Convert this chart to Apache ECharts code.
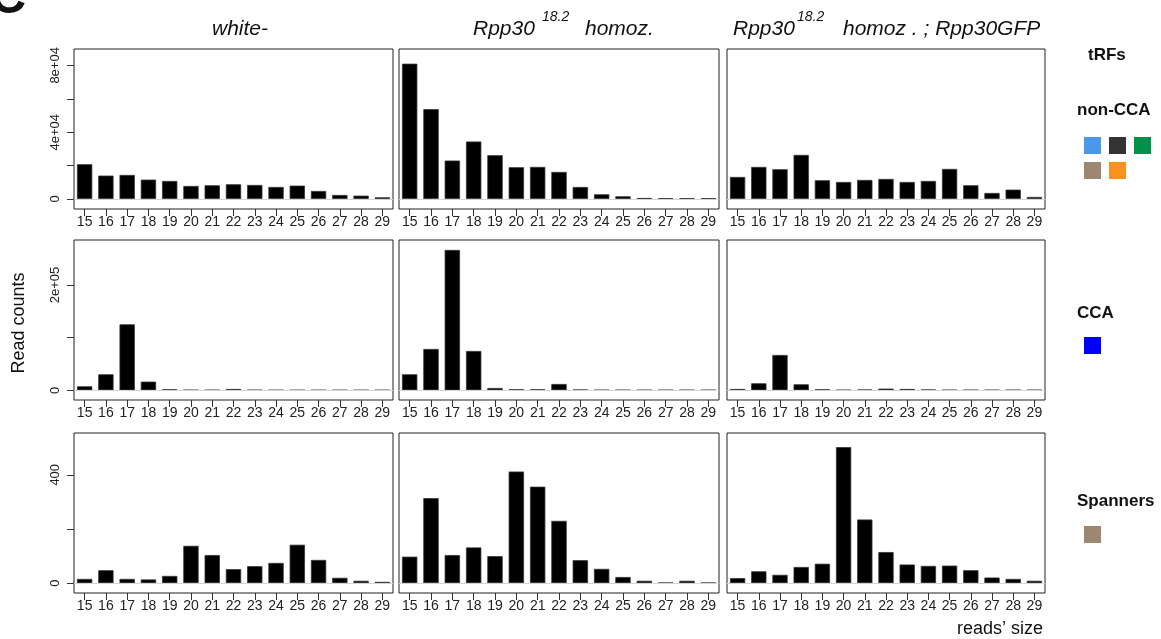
<!DOCTYPE html>
<html><head><meta charset="utf-8">
<script src="https://cdn.jsdelivr.net/npm/echarts@6/dist/echarts.min.js"></script>
<style>html,body{margin:0;padding:0;background:#fff}#c{width:1161px;height:639px}</style>
</head><body><div id="c"></div>
<script>
// ---------- data ----------
const sizes = ['15','16','17','18','19','20','21','22','23','24','25','26','27','28','29'];
const rowLabels = ['non-CCA', 'CCA', 'Spanners'];

const nonCCA_white  = [20800,14000,14400,11600,10800,7800,8200,8800,8400,7200,8000,4800,2400,2000,1000];
const nonCCA_rpp30  = [81000,53800,23000,34400,26200,19000,19200,16200,7200,2800,1600,600,400,400,400];
const nonCCA_rescue = [13200,19200,17800,26400,11200,10200,11400,12000,10200,10800,18000,8200,3600,5600,1200];

const cca_white  = [7600,30400,125300,16500,1900,600,600,2500,600,400,400,400,400,400,400];
const cca_rpp30  = [30400,78500,266500,74700,4400,1900,1900,12000,1300,600,600,600,600,600,600];
const cca_rescue = [2500,13300,67100,11400,1900,600,1300,3200,2500,1300,600,600,600,600,600];

const span_white  = [16,48,16,14,27,138,104,52,63,75,142,86,20,9,5];
const span_rpp30  = [98,314,104,132,100,412,356,230,85,53,23,9,2,9,2];
const span_rescue = [19,44,31,60,72,502,235,115,69,64,65,48,21,16,9];

// y-axis ticks / labels per row
const row1Ticks = [0,20000,40000,60000,80000];
const row1Labels = [0,40000,80000];
const row2Ticks = [0,100000,200000];
const row2Labels = [0,200000];
const row3Ticks = [0,200,400];
const row3Labels = [0,400];

// ---------- layout ----------
const colLeft = [74, 399, 727];
const colWidth = [319, 320, 318];
const rowTop = [49, 240, 433];
const rowHeight = 160;
const rowRange = [[-6000, 89800], [-18400, 285400], [-36, 554]];

const seriesData = [
  [nonCCA_white, nonCCA_rpp30, nonCCA_rescue],
  [cca_white, cca_rpp30, cca_rescue],
  [span_white, span_rpp30, span_rescue]
];
const ticks = [row1Ticks, row2Ticks, row3Ticks];
const labels = [row1Labels, row2Labels, row3Labels];

function sci(v) {
  if (v === 0) return '0';
  if (v < 1000) return String(v);
  const e = Math.floor(Math.log10(v));
  const m = Math.round(v / Math.pow(10, e));
  return m + 'e+' + (e < 10 ? '0' + e : e);
}

const FONT = '"Liberation Sans", Arial, sans-serif';
const grids = [], xAxes = [], yAxes = [], series = [];
for (let r = 0; r < 3; r++) {
  for (let c = 0; c < 3; c++) {
    const i = r * 3 + c;
    grids.push({left: colLeft[c], top: rowTop[r], width: colWidth[c], height: rowHeight,
      show: true, borderColor: '#222', borderWidth: 1, backgroundColor: 'transparent'});
    xAxes.push({type: 'category', gridIndex: i, data: sizes, position: 'bottom',
      axisLine: {show: false, onZero: false},
      axisTick: {show: true, alignWithLabel: true, length: 7, lineStyle: {color: '#333'}},
      axisLabel: {interval: 0, fontSize: 14, color: '#222', margin: 6, fontFamily: FONT, hideOverlap: false},
      splitLine: {show: false}});
    const first = c === 0;
    yAxes.push({type: 'value', gridIndex: i, min: rowRange[r][0], max: rowRange[r][1],
      axisLine: {show: false, onZero: false}, splitLine: {show: false},
      axisTick: {show: first, length: 7, customValues: ticks[r], lineStyle: {color: '#333'}},
      axisLabel: {show: first, customValues: labels[r], rotate: 90, fontSize: 13, color: '#222',
        margin: 12, fontFamily: FONT, formatter: v => sci(v)}});
    series.push({type: 'line', xAxisIndex: i, yAxisIndex: i, data: [], z: 1, silent: true,
      markLine: {silent: true, symbol: 'none', label: {show: false},
        lineStyle: {color: '#d4d4d4', type: 'solid', width: 1}, data: [{yAxis: 0}]}});
    series.push({type: 'bar', xAxisIndex: i, yAxisIndex: i, data: seriesData[r][c], z: 3,
      barWidth: '72%', silent: true,
      itemStyle: {color: '#000', borderColor: '#333', borderWidth: 0.8}});
  }
}

function txt(x, y, text, font, align, extra) {
  return Object.assign({type: 'text', x: x, y: y, silent: true,
    style: {text: text, font: font, fill: '#111', textAlign: align, align: align,
      textVerticalAlign: 'middle', verticalAlign: 'middle'}}, extra || {});
}
const titleFont = 'italic 21px ' + FONT;
const supFont = 'italic 14px ' + FONT;
const legFont = 'bold 17px ' + FONT;
const graphics = [
  txt(-10, -1, 'C', 'bold 50px ' + FONT, 'left'),
  txt(240, 29.5, 'white-', titleFont, 'center'),
  txt(473, 29.5, 'Rpp30', titleFont, 'left'),
  txt(542, 17, '18.2', supFont, 'left'),
  txt(585, 29.5, 'homoz.', titleFont, 'left'),
  txt(733, 29.5, 'Rpp30', titleFont, 'left'),
  txt(797, 17, '18.2', supFont, 'left'),
  txt(843, 29.5, 'homoz . ; Rpp30GFP', titleFont, 'left'),
  txt(19, 323, 'Read counts', '18px ' + FONT, 'center', {rotation: Math.PI / 2}),
  txt(1043, 629, 'reads\u2019 size', '18px ' + FONT, 'right'),
  txt(1088, 55.5, 'tRFs', legFont, 'left'),
  txt(1077, 110.5, rowLabels[0], legFont, 'left'),
  txt(1077, 313.5, rowLabels[1], legFont, 'left'),
  txt(1077, 501.5, rowLabels[2], legFont, 'left')
];
function sq(x, y, color) {
  return {type: 'rect', silent: true, shape: {x: x, y: y, width: 17, height: 17}, style: {fill: color}};
}
graphics.push(sq(1084, 137, '#4a98e8'), sq(1109, 137, '#333333'), sq(1134, 137, '#00924a'),
  sq(1084, 162, '#9c8773'), sq(1109, 162, '#f7921f'),
  sq(1084, 337, '#0000ff'), sq(1084, 526, '#9c8773'));

const chart = echarts.init(document.getElementById('c'), null, {renderer: 'canvas'});
chart.setOption({
  animation: false,
  backgroundColor: '#fff',
  grid: grids, xAxis: xAxes, yAxis: yAxes, series: series,
  graphic: {elements: graphics}
});
</script></body></html>
